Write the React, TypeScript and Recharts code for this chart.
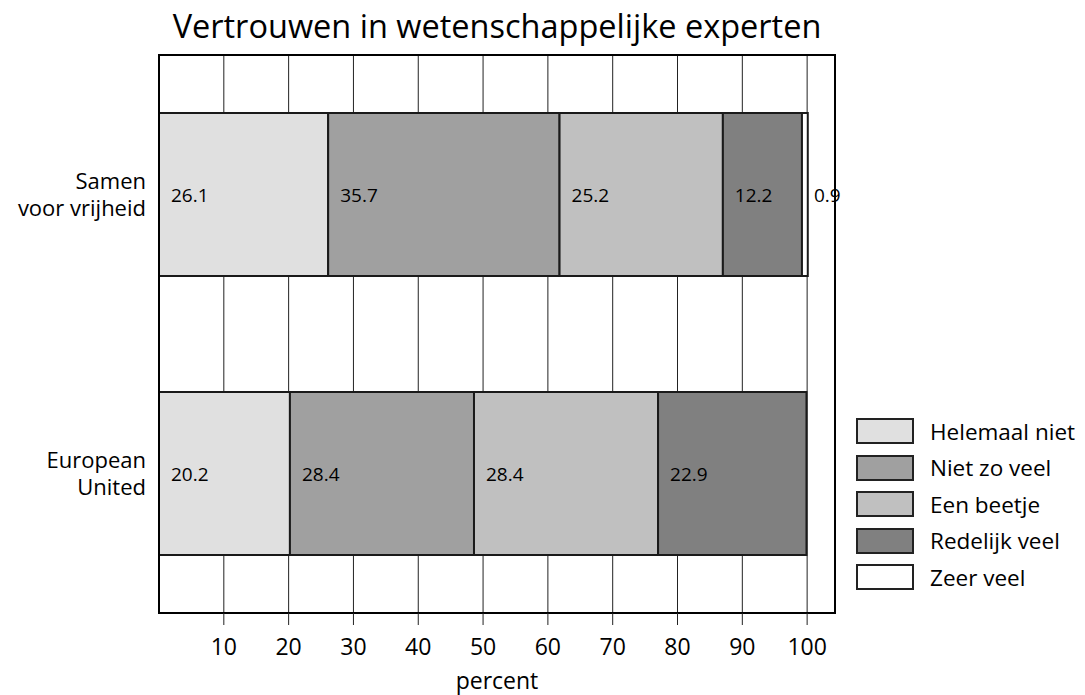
import {
  BarChart,
  Bar,
  XAxis,
  YAxis,
  CartesianGrid,
  LabelList,
  ReferenceArea,
} from "recharts";

const categories = ["Samen voor vrijheid", "European United"];
const helemaalNiet = [26.1, 20.2];
const nietZoVeel = [35.7, 28.4];
const eenBeetje = [25.2, 28.4];
const redelijkVeel = [12.2, 22.9];
const zeerVeel = [0.9, 0];
const xTicks = [10, 20, 30, 40, 50, 60, 70, 80, 90, 100];

const series = [
  { key: "helemaalNiet", name: "Helemaal niet", color: "#e0e0e0" },
  { key: "nietZoVeel", name: "Niet zo veel", color: "#a0a0a0" },
  { key: "eenBeetje", name: "Een beetje", color: "#c0c0c0" },
  { key: "redelijkVeel", name: "Redelijk veel", color: "#808080" },
  { key: "zeerVeel", name: "Zeer veel", color: "#ffffff" },
];

const data = categories.map((cat, i) => ({
  cat,
  helemaalNiet: helemaalNiet[i],
  nietZoVeel: nietZoVeel[i],
  eenBeetje: eenBeetje[i],
  redelijkVeel: redelijkVeel[i],
  zeerVeel: zeerVeel[i],
}));

const FONT = "'Open Sans', sans-serif";

function CatTick({ x, y, payload }: any) {
  const s: string = payload.value;
  const idx = s.indexOf(" ");
  const lines = [s.slice(0, idx), s.slice(idx + 1)];
  return (
    <text x={x - 5} y={y} textAnchor="end" fontSize={22} fill="#000" fontFamily={FONT}>
      <tspan x={x - 5} dy={-6}>{lines[0]}</tspan>
      <tspan x={x - 5} dy={27}>{lines[1]}</tspan>
    </text>
  );
}

function XTick({ x, y, payload }: any) {
  return (
    <text x={x} y={y} dy={30} textAnchor="middle" fontSize={23} fill="#000" fontFamily={FONT}>
      {payload.value}
    </text>
  );
}

function BarLabel({ x, y, height, value }: any) {
  if (!value) return null;
  return (
    <text
      x={x + 12}
      y={y + height / 2}
      dominantBaseline="central"
      fontSize={19}
      fill="#000"
      fontFamily={FONT}
    >
      {value}
    </text>
  );
}

function LegendBox() {
  return (
    <div
      style={{
        position: "absolute",
        left: 856,
        top: 413,
        fontFamily: FONT,
        fontSize: 22.5,
        color: "#000",
      }}
    >
      {series.map((s) => (
        <div key={s.key} style={{ display: "flex", alignItems: "center", height: 36.5 }}>
          <div
            style={{
              width: 54,
              height: 22,
              background: s.color,
              border: "2px solid #222",
              marginRight: 16,
            }}
          />
          <span style={{ whiteSpace: "nowrap" }}>{s.name}</span>
        </div>
      ))}
    </div>
  );
}

export default function App() {
  return (
    <div style={{ position: "absolute", left: 0, top: 0, width: 1085, height: 695, background: "#fff" }}>
      <div
        style={{
          position: "absolute",
          left: 0,
          width: 994,
          top: 3,
          textAlign: "center",
          fontFamily: FONT,
          fontSize: 32.5,
          color: "#000",
          whiteSpace: "nowrap",
        }}
      >
        Vertrouwen in wetenschappelijke experten
      </div>
      <BarChart
        width={1085}
        height={695}
        data={data}
        layout="vertical"
        margin={{ top: 55, right: 250, left: 0, bottom: 0 }}
        barCategoryGap={58}
      >
        <CartesianGrid vertical horizontal={false} stroke="#222" strokeWidth={1} />
        <XAxis
          type="number"
          domain={[0, 104.3]}
          ticks={xTicks}
          allowDataOverflow
          height={82}
          tickSize={12}
          tickMargin={0}
          tick={<XTick />}
          tickLine={{ stroke: "#222" }}
          axisLine={{ stroke: "#000", strokeWidth: 2 }}
          label={{
            value: "percent",
            position: "insideBottom",
            offset: 6,
            style: { fill: "#000", fontSize: 23, fontFamily: FONT },
          }}
        />
        <YAxis
          type="category"
          dataKey="cat"
          width={159}
          tickLine={false}
          axisLine={{ stroke: "#000", strokeWidth: 2 }}
          tick={<CatTick />}
        />
        <ReferenceArea x1={0} x2={104.3} fill="none" stroke="#000" strokeWidth={2} ifOverflow="visible" />
        {series.map((s) => (
          <Bar
            key={s.key}
            dataKey={s.key}
            name={s.name}
            stackId="a"
            fill={s.color}
            stroke="#1a1a1a"
            strokeWidth={2}
            isAnimationActive={false}
          >
            <LabelList dataKey={s.key} content={<BarLabel />} />
          </Bar>
        ))}
      </BarChart>
      <LegendBox />
    </div>
  );
}
